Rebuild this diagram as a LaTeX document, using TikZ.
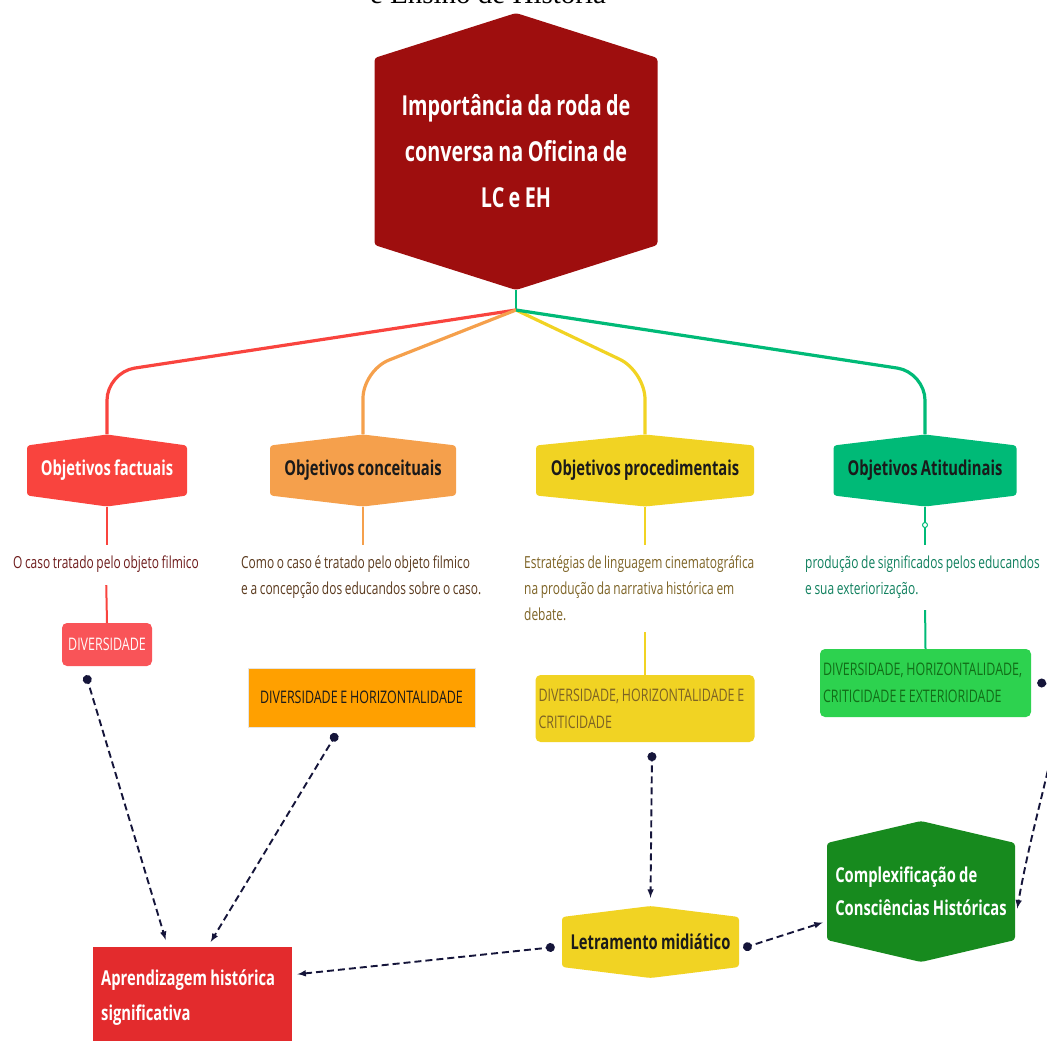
\documentclass[tikz,border=0pt]{standalone}
\usepackage{fontspec}
\setmainfont{Open Sans}[FakeStretch=0.72,WordSpace=0.85]
\newfontfamily\headserif{Liberation Serif}
\usepackage{tikz}
\usetikzlibrary{arrows,positioning}

\definecolor{rootred}{HTML}{9E0E0E}
\definecolor{factred}{HTML}{F9443E}
\definecolor{concorange}{HTML}{F5A04C}
\definecolor{procyellow}{HTML}{F1D323}
\definecolor{atitgreen}{HTML}{00BA77}
\definecolor{divred}{HTML}{F95458}
\definecolor{divorange}{HTML}{FFA000}
\definecolor{divgreen}{HTML}{2DD24F}
\definecolor{aprred}{HTML}{E32B2D}
\definecolor{compgreen}{HTML}{178A1E}
\definecolor{linknavy}{HTML}{15153A}
\definecolor{txtfact}{HTML}{6E1C1C}
\definecolor{txtconc}{HTML}{5B3A1E}
\definecolor{txtproc}{HTML}{7D6325}
\definecolor{txtatit}{HTML}{10805E}
\definecolor{txtdark}{HTML}{1A1A1A}

\tikzset{
  hexnode/.style 2 args={inner sep=0pt, align=center, path picture={
    \fill[#1, rounded corners=3pt] (path picture bounding box.north)
      -- ([yshift=-#2]path picture bounding box.north east)
      -- ([yshift=#2]path picture bounding box.south east)
      -- (path picture bounding box.south)
      -- ([yshift=#2]path picture bounding box.south west)
      -- ([yshift=-#2]path picture bounding box.north west) -- cycle;}},
  goalhex/.style={hexnode={#1}{11pt}, minimum height=72pt, text=txtdark,
    font=\fontsize{20.5}{24}\selectfont\bfseries},
  descnote/.style={inner sep=0pt, align=flush left, font=\fontsize{16.6}{26}\selectfont},
  valuebox/.style={fill=#1, rounded corners=5pt, inner sep=3pt,
    font=\fontsize{17.3}{27}\selectfont},
  branch/.style={#1, line width=3.2pt, rounded corners=28pt},
  stem/.style={#1, line width=2pt},
  link/.style={linknavy, line width=1.9pt, dash pattern=on 7pt off 4pt, *-latex}
}

\begin{document}
\begin{tikzpicture}[x=1pt,y=-1pt]
\useasboundingbox (0,0) rectangle (1047,1041);

\node[anchor=base, font=\headserif\fontsize{29}{30}\selectfont] (head) at (488,4) {e Ensino de História};

\node[hexnode={rootred}{45pt}, minimum width=283pt, minimum height=277pt, text=white,
  font=\fontsize{27.5}{46}\selectfont\bfseries] (root) at (516,151.5)
  {Importância da roda de\\conversa na Oficina de\\LC e EH};
\coordinate (fork) at (516,310);

\node[goalhex=factred, minimum width=160pt, text=white] (fact) at (107,470.5) {Objetivos factuais};
\node[goalhex=concorange, minimum width=186pt] (conc) at (363,470.5) {Objetivos conceituais};
\node[goalhex=procyellow, minimum width=218pt] (proc) at (645,470.5) {Objetivos procedimentais};
\node[goalhex=atitgreen, minimum width=183pt] (atit) at (925,470.5) {Objetivos Atitudinais};

\draw[stem=atitgreen] (root.south) -- (fork);
\draw[branch=factred] (fork) -- ([yshift=62pt]fact.north) -- (fact.north);
\draw[branch=concorange] (fork) -- ([yshift=64pt]conc.north) -- (conc.north);
\draw[branch=procyellow] (fork) -- ([yshift=63pt]proc.north) -- (proc.north);
\draw[branch=atitgreen] (fork) -- ([yshift=62pt]atit.north) -- (atit.north);

\node[descnote, anchor=north, align=center, text=txtfact] (factdesc) at (106,556) {O caso tratado pelo objeto filmico};
\node[descnote, anchor=north west, text=txtconc] (concdesc) at (241,556)
  {Como o caso é tratado pelo objeto filmico\\e a concepção dos educandos sobre o caso.};
\node[descnote, anchor=north west, text=txtproc] (procdesc) at (524,556)
  {Estratégias de linguagem cinematográfica\\na produção da narrativa histórica em\\debate.};
\node[descnote, anchor=north west, text=txtatit] (atitdesc) at (805,556)
  {produção de significados pelos educandos\\e sua exteriorização.};

\draw[stem=factred] (fact.south) -- (fact.south |- factdesc.north) [shorten >=11pt];
\draw[stem=concorange] (conc.south) -- (conc.south |- concdesc.north) [shorten >=11pt];
\draw[stem=procyellow] (proc.south) -- (proc.south |- procdesc.north) [shorten >=11pt];
\draw[stem=atitgreen] (atit.south) -- (atit.south |- atitdesc.north) [shorten >=11pt];
\draw[atitgreen, line width=1pt, fill=white] (925,525) circle (2.5);

\node[valuebox=divred, minimum width=90pt, minimum height=43pt, text=white!90!pink] (divF) at (107,644.5) {DIVERSIDADE};
\node[valuebox=divorange, rounded corners=0pt, draw=black!10, line width=1pt, minimum width=227pt, minimum height=59pt, text=txtdark] (divC) at (361.5,697.5) {DIVERSIDADE E HORIZONTALIDADE};
\node[valuebox=procyellow, minimum width=219pt, minimum height=67pt, text width=213pt, align=flush left, text=txtproc] (divP) at (645,708.5)
  {DIVERSIDADE, HORIZONTALIDADE E\\CRITICIDADE};
\node[valuebox=divgreen, minimum width=211pt, minimum height=68pt, text width=205pt, align=flush left, text=compgreen!80!black] (divA) at (925.5,683)
  {DIVERSIDADE, HORIZONTALIDADE,\\CRITICIDADE E EXTERIORIDADE};

\draw[stem=factred] (factdesc.south) -- (divF.north) [shorten <=12pt];
\draw[stem=procyellow] (proc.south |- procdesc.south) -- (divP.north) [shorten <=11pt];
\draw[stem=atitgreen] (atit.south |- atitdesc.south) -- (divA.north) [shorten <=11pt];

\node[fill=aprred, anchor=north west, minimum width=199pt, minimum height=100pt, text width=183pt,
  align=flush left, text=white, font=\fontsize{20.5}{35}\selectfont\bfseries] (apr) at (93,947)
  {Aprendizagem histórica\\significativa};
\node[goalhex=procyellow, minimum width=177pt] (letr) at (650.5,942) {Letramento midiático};
\node[hexnode={compgreen}{22pt}, minimum width=188pt, minimum height=141pt, align=flush left, text=white,
  font=\fontsize{20.5}{33}\selectfont\bfseries] (comp) at (921,891.5)
  {Complexificação de\\Consciências Históricas};

\draw[link] ([xshift=-21pt,yshift=-9pt]divF.south) -- ([xshift=-27pt,yshift=7pt]apr.north);
\draw[link] ([xshift=-25pt,yshift=-6pt]divC.south) -- ([xshift=18pt,yshift=5pt]apr.north);
\draw[link] ([xshift=7pt,yshift=-10pt]divP.south) -- ([xshift=0pt,yshift=8pt]letr.north);
\draw[link] ([xshift=-7pt,yshift=-5pt]letr.west) -- ([xshift=5pt,yshift=23pt]apr.east);
\draw[link] ([xshift=4pt,yshift=-6pt]letr.east) -- ([xshift=-4pt,yshift=-31pt]comp.west);
\draw[link] ([xshift=6pt]divA.east) .. controls +(45,0) and +(22,-125) .. ([xshift=2pt,yshift=-17pt]comp.east);
\end{tikzpicture}
\end{document}
